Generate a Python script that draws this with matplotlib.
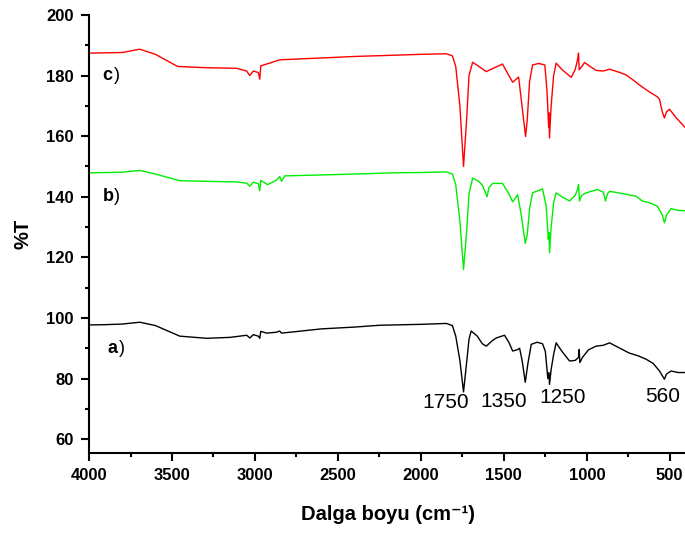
import matplotlib
matplotlib.use('Agg')
import matplotlib.pyplot as plt
from matplotlib.ticker import MultipleLocator

plt.rcParams['font.family'] = ['Liberation Sans', 'DejaVu Sans']

# Spektrum a) - siyah
wn_a = [4000, 3900, 3800, 3694, 3600, 3453, 3291, 3150, 3050, 3031, 3010, 2980, 2971, 2965,
        2930, 2870, 2851, 2840, 2600, 2400, 2249, 2000, 1847, 1810, 1790, 1765, 1743, 1725,
        1710, 1697, 1660, 1630, 1606, 1570, 1546, 1496, 1470, 1447, 1420, 1405, 1390, 1371,
        1355, 1335, 1300, 1267, 1250, 1235, 1228, 1225, 1215, 1200, 1185, 1150, 1104, 1070,
        1050, 1046, 1042, 1026, 990, 944, 900, 863, 800, 743, 690, 643, 600, 562, 540, 532,
        520, 492, 450, 410]
t_a = [97.7, 97.8, 98.0, 98.6, 97.5, 94.0, 93.3, 93.6, 94.3, 93.4, 94.5, 94.0, 93.3, 95.6,
       95.0, 95.3, 95.7, 95.0, 96.4, 97.0, 97.6, 97.9, 98.2, 97.5, 94.0, 86.0, 75.6, 85.0,
       93.0, 95.7, 94.0, 91.5, 90.7, 92.5, 93.4, 94.3, 92.0, 89.1, 89.5, 90.0, 86.0, 78.8,
       85.0, 91.3, 92.0, 91.5, 89.0, 80.0, 82.0, 78.1, 83.0, 88.0, 91.8, 89.0, 85.8, 86.0,
       87.0, 89.6, 85.3, 87.0, 89.5, 90.7, 91.0, 91.8, 90.0, 88.4, 87.5, 86.4, 85.0, 82.5,
       80.5, 79.8, 81.5, 82.5, 82.0, 82.0]

# Spektrum b) - yeşil
wn_b = [4000, 3900, 3800, 3694, 3600, 3453, 3300, 3112, 3050, 3032, 3010, 2980, 2971, 2965,
        2924, 2870, 2851, 2840, 2820, 2600, 2400, 2170, 2000, 1847, 1810, 1790, 1765, 1743,
        1725, 1710, 1688, 1650, 1628, 1601, 1590, 1568, 1508, 1470, 1447, 1417, 1395, 1371,
        1359, 1345, 1327, 1267, 1245, 1232, 1228, 1225, 1215, 1200, 1185, 1150, 1104, 1070,
        1056, 1050, 1044, 1030, 1004, 936, 900, 888, 875, 863, 780, 703, 665, 620, 575, 545,
        532, 520, 492, 450, 410]
t_b = [147.9, 148.0, 148.1, 148.7, 147.5, 145.3, 145.1, 144.9, 144.5, 143.5, 144.8, 144.3,
       142.0, 145.4, 144.0, 145.5, 146.7, 145.1, 146.9, 147.2, 147.5, 147.9, 148.0, 148.2,
       147.5, 144.0, 132.0, 116.0, 128.0, 141.0, 146.2, 145.0, 143.7, 140.0, 143.0, 144.4,
       144.4, 141.0, 138.3, 140.7, 134.0, 124.6, 127.5, 136.0, 141.3, 142.6, 137.0, 126.0,
       128.2, 121.5, 130.0, 138.0, 141.3, 140.0, 138.6, 140.5, 142.4, 144.0, 138.6, 140.5,
       141.3, 142.4, 141.5, 138.6, 141.0, 141.8, 141.0, 140.2, 138.6, 138.0, 136.9, 134.0,
       131.4, 134.0, 136.1, 135.5, 135.4]

# Spektrum c) - kırmızı
wn_c = [4000, 3900, 3800, 3694, 3600, 3466, 3300, 3112, 3050, 3032, 3010, 2980, 2971, 2965,
        2912, 2851, 2600, 2400, 2170, 2000, 1847, 1810, 1790, 1765, 1743, 1725, 1710, 1688,
        1650, 1606, 1560, 1508, 1470, 1447, 1411, 1395, 1369, 1359, 1345, 1327, 1290, 1253,
        1240, 1230, 1228, 1225, 1215, 1200, 1185, 1150, 1094, 1070, 1056, 1050, 1046, 1030,
        1014, 980, 944, 900, 863, 800, 763, 720, 683, 620, 575, 562, 545, 532, 520, 502, 460,
        410]
t_c = [187.4, 187.5, 187.6, 188.7, 187.0, 183.0, 182.6, 182.4, 181.5, 180.0, 181.5, 181.0,
       178.8, 183.2, 184.1, 185.2, 185.8, 186.3, 186.7, 187.0, 187.2, 186.5, 183.0, 170.0,
       150.0, 165.0, 180.0, 184.4, 183.0, 181.3, 182.5, 183.8, 180.0, 177.8, 179.5, 172.0,
       159.9, 165.4, 178.0, 183.5, 184.0, 183.5, 175.0, 163.0, 167.7, 159.4, 170.0, 180.0,
       184.1, 182.0, 179.4, 182.0, 185.2, 187.4, 181.9, 183.0, 184.3, 183.0, 181.7, 181.5,
       182.1, 181.0, 180.2, 178.5, 176.9, 174.5, 173.0, 172.2, 168.0, 166.0, 168.0, 168.9,
       166.0, 163.0]

# Etiketler
curve_labels = ['a', 'b', 'c']
curve_label_pos = [(3890, 90), (3920, 140), (3920, 180)]
peak_labels = ['1750', '1350', '1250', '560']
peak_label_pos = [(1853, 72.2), (1502, 72.6), (1148, 73.7), (542, 74.0)]

fig = plt.figure(figsize=(6.85, 5.34), dpi=100)
ax = fig.add_axes([0.130, 0.152, 0.872, 0.820])

ax.plot(wn_a, t_a, color='black', lw=1.0)
ax.plot(wn_b, t_b, color='#00ee00', lw=1.0)
ax.plot(wn_c, t_c, color='red', lw=1.0)

for lab, (x, y) in zip(curve_labels, curve_label_pos):
    ax.text(x, y, lab, fontsize=13, fontweight='bold', ha='left', va='center')
    ax.annotate(')', xy=(x, y), xytext=(8.5, 0), textcoords='offset points',
                fontsize=13, ha='left', va='center')

for lab, (x, y) in zip(peak_labels, peak_label_pos):
    ax.text(x, y, lab, fontsize=15, ha='center', va='center')

ax.set_xlim(4000, 400)
ax.set_ylim(55.5, 200)
ax.xaxis.set_major_locator(MultipleLocator(500))
ax.xaxis.set_minor_locator(MultipleLocator(250))
ax.yaxis.set_major_locator(MultipleLocator(20))
ax.yaxis.set_minor_locator(MultipleLocator(10))
ax.set_yticks([60, 80, 100, 120, 140, 160, 180, 200])

for s in ['top', 'right']:
    ax.spines[s].set_visible(False)
for s in ['left', 'bottom']:
    ax.spines[s].set_linewidth(1.5)

ax.tick_params(which='major', direction='out', length=6, width=1.5, labelsize=12, pad=5)
ax.tick_params(which='minor', direction='out', length=3, width=1.5)
for lbl in ax.get_xticklabels() + ax.get_yticklabels():
    lbl.set_fontweight('bold')

ax.set_xlabel('Dalga boyu (cm⁻¹)', fontsize=14.5, fontweight='bold', labelpad=16)
ax.set_ylabel('%T', fontsize=14.5, fontweight='bold', labelpad=10)

fig.savefig('out.png', dpi=100)
